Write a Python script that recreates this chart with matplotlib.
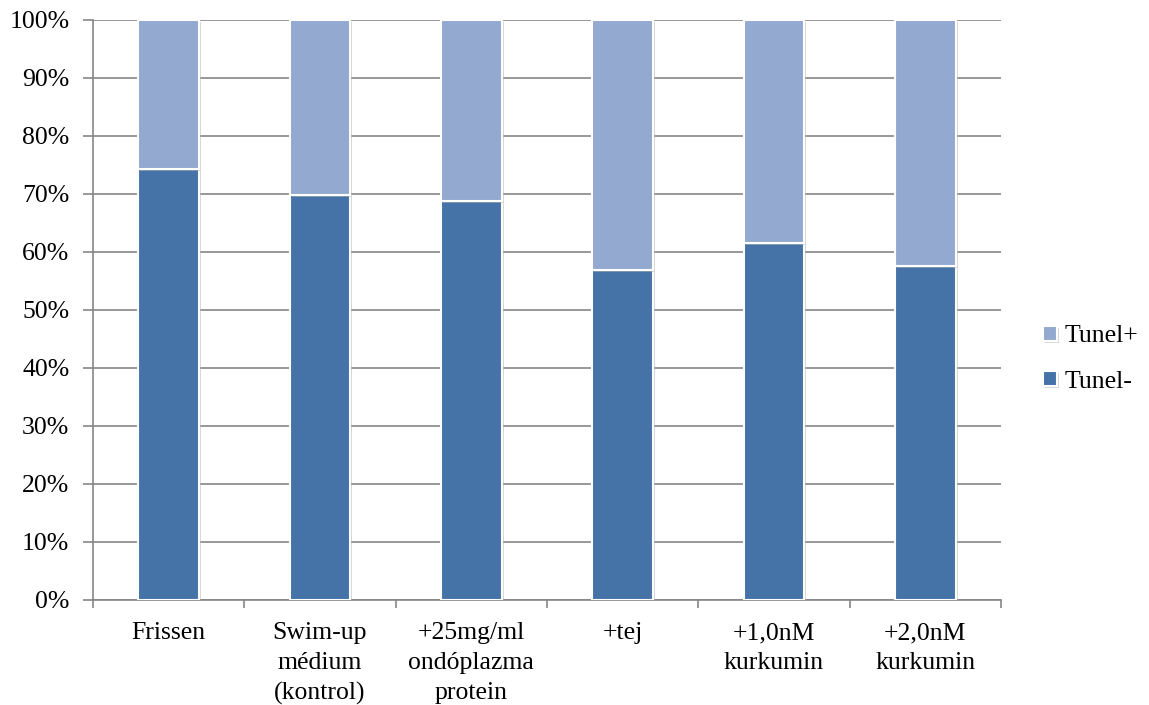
import matplotlib
matplotlib.use("Agg")
import matplotlib.pyplot as plt
import matplotlib.patheffects as pe
import numpy as np

categories = ["Frissen", "Swim-up\nmédium\n(kontrol)", "+25mg/ml\nondóplazma\nprotein",
              "+tej", "+1,0nM\nkurkumin", "+2,0nM\nkurkumin"]
tunel_neg = [74.3, 69.8, 68.8, 56.9, 61.5, 57.6]
tunel_pos = [100 - v for v in tunel_neg]

plt.rcParams['font.family'] = ['Liberation Serif', 'DejaVu Serif']

fig = plt.figure(figsize=(11.49, 7.05), dpi=100)
ax = fig.add_axes([93/1149, 1 - 600/705, (1001 - 93)/1149, 580/705])

x = np.arange(len(categories))
w = 0.4
shadow = [pe.SimplePatchShadow(offset=(1.5, -1.5), shadow_rgbFace='#b0b0b0', alpha=0.5), pe.Normal()]
b1 = ax.bar(x, tunel_neg, w, color='#4572A7', edgecolor='white', linewidth=1.5,
            label='Tunel-', zorder=3, path_effects=shadow)
b2 = ax.bar(x, tunel_pos, w, bottom=tunel_neg, color='#94A9D0', edgecolor='white', linewidth=1.5,
            label='Tunel+', zorder=3, path_effects=shadow)

ax.set_xlim(-0.5, len(categories) - 0.5)
ax.set_ylim(0, 100)
ax.set_yticks(np.arange(0, 101, 10))
ax.set_yticklabels([f"{v}%" for v in range(0, 101, 10)], fontsize=18.5)
ax.yaxis.grid(True, color='#868686', linewidth=1.2, zorder=0)
ax.set_axisbelow(True)

ax.set_xticks(np.arange(-0.5, len(categories), 1.0))
ax.set_xticklabels([])
ax.set_xticks(x, minor=True)
ax.set_xticklabels(categories, minor=True, fontsize=18.5, linespacing=1.45)
ax.tick_params(axis='x', which='minor', length=0, pad=16)
ax.tick_params(axis='x', which='major', length=6, color='#868686', width=1.2)
ax.tick_params(axis='y', length=7, color='#868686', width=1.2, pad=10)

for s in ['top', 'right']:
    ax.spines[s].set_visible(False)
for s in ['left', 'bottom']:
    ax.spines[s].set_color('#868686')
    ax.spines[s].set_linewidth(1.2)

handles = [b2, b1]
leg = fig.legend(handles, ['Tunel+', 'Tunel-'], loc='center left',
                 bbox_to_anchor=(1043/1149, 1 - 359/705), frameon=False, fontsize=18.5,
                 handlelength=0.55, handleheight=0.55, handletextpad=0.3, labelspacing=0.9,
                 borderpad=0, borderaxespad=0)

fig.savefig("out.png", dpi=100)
